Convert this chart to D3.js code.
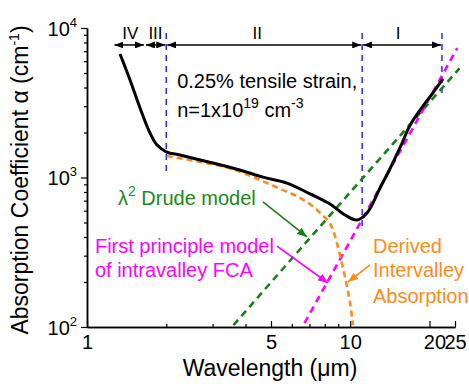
<!DOCTYPE html>
<html>
<head>
<meta charset="utf-8">
<script src="https://cdn.jsdelivr.net/npm/d3@7"></script>
<style>
body { margin: 0; background: #fff; }
text { font-family: "Liberation Sans", Arial, sans-serif; }
</style>
</head>
<body>
<svg id="chart" width="469" height="384"></svg>
<script>
// measured absorption (wavelength in um, alpha in cm^-1)
const measured_wl = [1.335, 1.457, 1.59, 1.735, 1.845, 2.01, 2.256, 2.69, 3.01, 3.81, 4.66, 5.75, 7.04, 8.38, 9.56, 10.6, 11.58, 12.98, 14.2, 15.5, 16.9, 18.9, 20.6, 22.5];
const measured_alpha = [6700, 4490, 2920, 1985, 1650, 1480, 1413, 1310, 1250, 1122, 1005, 918, 776, 665, 561, 520, 579, 851, 1158, 1600, 2245, 3006, 3675, 4560];

// lambda^2 Drude model
const drude_wl = [3.6, 5, 7, 10, 15, 20, 26];
const drude_alpha = [103, 199, 390, 795, 1790, 3180, 5370];

// first principle model of intravalley FCA
const fp_wl = [6.7, 8, 10, 12, 15, 20, 25.5];
const fp_alpha = [106, 186, 377, 672, 1364, 3393, 7330];

// derived intervalley absorption
const inter_wl = [2.01, 2.69, 3.5, 4.54, 5.5, 6.45, 7.68, 8.6, 9.14, 9.55, 9.98, 10.25];
const inter_alpha = [1393, 1270, 1150, 962, 830, 729, 579, 445, 303, 216, 145, 103];

// regions (I..IV) boundaries
const region_bounds = [1.26, 1.66, 2.0, 11.1, 22.3];
const region_labels = ["IV", "III", "II", "I"];
const region_label_wl = [1.46, 1.82, 4.43, 15.2];
const region_alpha = 7700;

// vertical dashed boundaries
const vline_wl = [2.0, 11.1, 22.3];
const vline_top = [9270, 9270, 9270];
const vline_bottom = [1040, 474, 3675];

const x_ticks = [1, 2, 3, 4, 5, 6, 7, 8, 9, 10, 20, 25];
const x_tick_labels = [1, 5, 10, 20, 25];
const y_major = [100, 1000, 10000];

let svg = d3.select("#chart");

let x = d3.scaleLog().domain([1, 25]).range([87, 455]);
let y = d3.scaleLog().domain([100, 10000]).range([327, 28]);

function zip(a, b) {
    return a.map((d, i) => [d, b[i]]);
}

// defs for arrowheads
let defs = svg.append("defs");
function make_marker(id, color, len, half) {
    defs.append("marker")
        .attr("id", id)
        .attr("markerUnits", "userSpaceOnUse")
        .attr("viewBox", `0 ${-half} ${len} ${half * 2}`)
        .attr("refX", len)
        .attr("refY", 0)
        .attr("markerWidth", len)
        .attr("markerHeight", half * 2)
        .attr("orient", "auto-start-reverse")
        .append("path")
        .attr("d", `M0,${-half}L${len},0L0,${half}Z`)
        .attr("fill", color);
}
make_marker("arr_black", "#000", 9, 3.5);
make_marker("arr_green", "#1c7d1c", 10, 4);
make_marker("arr_magenta", "#ff00ff", 10, 4);
make_marker("arr_orange", "#ff8c1a", 10, 4);

// axes
let yAxisMinor = d3.axisLeft(y)
    .tickValues(y.ticks().filter(d => !y_major.includes(d)))
    .tickSize(3).tickSizeOuter(0).tickFormat("");
let yAxisMajor = d3.axisLeft(y)
    .tickValues(y_major).tickSize(6).tickSizeOuter(0).tickFormat("");
svg.append("g").attr("transform", "translate(87,0)").call(yAxisMinor);
let yg = svg.append("g").attr("transform", "translate(87,0)").call(yAxisMajor);

let xAxisMinor = d3.axisBottom(x)
    .tickValues(x_ticks.filter(d => !x_tick_labels.includes(d)))
    .tickSize(-3).tickSizeOuter(0).tickFormat("");
let xAxisMajor = d3.axisBottom(x)
    .tickValues(x_tick_labels).tickSize(-6).tickSizeOuter(0)
    .tickPadding(8).tickFormat(d3.format("d"));
svg.append("g").attr("transform", "translate(0,327)").call(xAxisMinor);
let xg = svg.append("g").attr("transform", "translate(0,327)").call(xAxisMajor);

svg.selectAll(".domain").attr("stroke-width", 1.5);
svg.selectAll(".tick line").attr("stroke-width", 1.2);
xg.selectAll("text")
    .attr("font-size", 20)
    .attr("font-family", "Liberation Sans, Arial, sans-serif")
    .attr("fill", "#000")
    .attr("dx", d => d === 20 ? 5 : 0);

// y labels 10^n
yg.selectAll(".tick").each(function (d) {
    let t = d3.select(this).append("text")
        .attr("x", -10)
        .attr("y", 7)
        .attr("text-anchor", "end")
        .attr("font-size", 20)
        .attr("fill", "#000");
    t.append("tspan").text("10");
    t.append("tspan").attr("dy", -9).attr("font-size", 13).text(Math.round(Math.log10(d)));
});

// axis titles
svg.append("text")
    .attr("x", 270).attr("y", 376)
    .attr("text-anchor", "middle")
    .attr("font-size", 23)
    .text("Wavelength (\u03bcm)");

let yt = svg.append("text")
    .attr("transform", "translate(28,180) rotate(-90)")
    .attr("text-anchor", "middle")
    .attr("font-size", 23);
yt.append("tspan").text("Absorption Coefficient \u03b1 (cm");
yt.append("tspan").attr("dy", -9).attr("font-size", 14).text("-1");
yt.append("tspan").attr("dy", 9).text(")");

// vertical dashed lines
svg.append("g").selectAll("line")
    .data(vline_wl).enter()
    .append("line")
    .attr("x1", d => x(d)).attr("x2", d => x(d))
    .attr("y1", (d, i) => y(vline_top[i]))
    .attr("y2", (d, i) => y(vline_bottom[i]))
    .attr("stroke", "#2a2aff")
    .attr("stroke-width", 1.5)
    .attr("stroke-dasharray", "6,5");

// region arrows
let regions = region_labels.map((d, i) => ({ label: d, from: region_bounds[i], to: region_bounds[i + 1], at: region_label_wl[i] }));
svg.append("g").selectAll("line")
    .data(regions).enter()
    .append("line")
    .attr("x1", d => x(d.from) + 1).attr("x2", d => x(d.to) - 1)
    .attr("y1", y(region_alpha)).attr("y2", y(region_alpha))
    .attr("stroke", "#000")
    .attr("stroke-width", 1.5)
    .attr("marker-start", "url(#arr_black)")
    .attr("marker-end", "url(#arr_black)");
svg.append("g").selectAll("text")
    .data(regions).enter()
    .append("text")
    .attr("x", d => x(d.at))
    .attr("y", y(region_alpha) - 6)
    .attr("text-anchor", "middle")
    .attr("font-size", 17)
    .text(d => d.label);

// curves
let line = d3.line()
    .x(d => x(d[0]))
    .y(d => y(d[1]));

svg.append("path")
    .datum(zip(drude_wl, drude_alpha))
    .attr("d", line)
    .attr("fill", "none")
    .attr("stroke", "#1c7d1c")
    .attr("stroke-width", 2.6)
    .attr("stroke-dasharray", "7,5");

svg.append("path")
    .datum(zip(fp_wl, fp_alpha))
    .attr("d", line)
    .attr("fill", "none")
    .attr("stroke", "#ff00ff")
    .attr("stroke-width", 2.6)
    .attr("stroke-dasharray", "7,5");

svg.append("path")
    .datum(zip(inter_wl, inter_alpha))
    .attr("d", line.curve(d3.curveMonotoneX))
    .attr("fill", "none")
    .attr("stroke", "#ff8c1a")
    .attr("stroke-width", 2.6)
    .attr("stroke-dasharray", "6,4");

svg.append("path")
    .datum(zip(measured_wl, measured_alpha))
    .attr("d", line.curve(d3.curveCatmullRom.alpha(0.5)))
    .attr("fill", "none")
    .attr("stroke", "#000")
    .attr("stroke-width", 3);

// annotations
let note1 = svg.append("text")
    .attr("x", x(2.2)).attr("y", y(3970))
    .attr("font-size", 20);
note1.text("0.25% tensile strain,");

let note2 = svg.append("text")
    .attr("x", x(2.2)).attr("y", y(2540))
    .attr("font-size", 20);
note2.append("tspan").text("n=1x10");
note2.append("tspan").attr("dy", -9).attr("font-size", 14).text("19");
note2.append("tspan").attr("dy", 9).text(" cm");
note2.append("tspan").attr("dy", -9).attr("font-size", 14).text("-3");

let drude_txt = svg.append("text")
    .attr("x", x(1.311)).attr("y", y(655))
    .attr("font-size", 20)
    .attr("fill", "#1a8a1a");
drude_txt.append("tspan").text("\u03bb");
drude_txt.append("tspan").attr("dy", -9).attr("font-size", 14).text("2");
drude_txt.append("tspan").attr("dy", 9).text(" Drude model");

svg.append("text")
    .attr("x", x(1.072)).attr("y", y(312))
    .attr("font-size", 20).attr("fill", "#ff00ff")
    .text("First principle model");
svg.append("text")
    .attr("x", x(1.072)).attr("y", y(216))
    .attr("font-size", 20).attr("fill", "#ff00ff")
    .text("of intravalley FCA");

let inter_lines = ["Derived", "Intervalley", "Absorption"];
let inter_alpha_pos = [312, 216, 145];
svg.append("g").selectAll("text")
    .data(inter_lines).enter()
    .append("text")
    .attr("x", x(12.2))
    .attr("y", (d, i) => y(inter_alpha_pos[i]))
    .attr("font-size", 20)
    .attr("fill", "#ff8c1a")
    .text(d => d);

// annotation arrows
let arrows = [
    { from: [4.66, 686], to: [6.85, 400], color: "#1c7d1c", marker: "arr_green" },
    { from: [5.27, 348], to: [8.23, 197], color: "#ff00ff", marker: "arr_magenta" },
    { from: [11.89, 260], to: [9.81, 200], color: "#ff8c1a", marker: "arr_orange" }
];
svg.append("g").selectAll("line")
    .data(arrows).enter()
    .append("line")
    .attr("x1", d => x(d.from[0])).attr("y1", d => y(d.from[1]))
    .attr("x2", d => x(d.to[0])).attr("y2", d => y(d.to[1]))
    .attr("stroke", d => d.color)
    .attr("stroke-width", 1.6)
    .attr("marker-end", d => `url(#${d.marker})`);
</script>
</body>
</html>
